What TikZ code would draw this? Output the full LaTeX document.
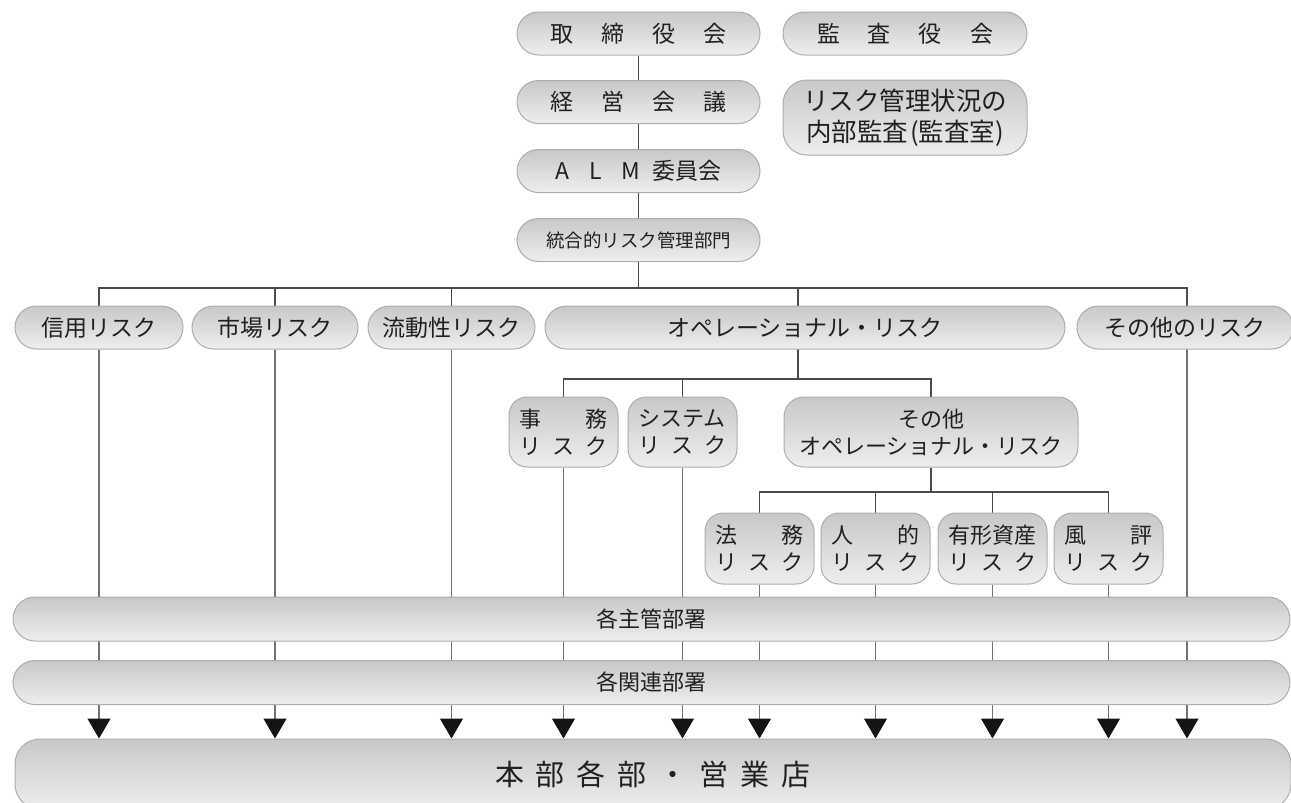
\documentclass[tikz,border=0pt]{standalone}
\usepackage{fontspec}
\setmainfont{Noto Sans CJK JP}
\usetikzlibrary{arrows.meta,calc}
\definecolor{boxtop}{RGB}{199,200,202}
\definecolor{boxbot}{RGB}{238,238,240}
\definecolor{boxline}{RGB}{172,173,175}
\definecolor{txt}{RGB}{35,31,32}
\definecolor{vline}{RGB}{115,115,115}
\definecolor{hline}{RGB}{75,75,75}
\newcommand\gp[1]{\hspace{#1pt}}
\newcommand\jl[1]{\makebox[88pt][s]{#1}}
\pgfdeclarelayer{bg}
\pgfsetlayers{bg,main}
\begin{document}
\begin{tikzpicture}[x=1pt,y=-1pt,
  pill/.style={draw=boxline,line width=1pt,top color=boxtop,bottom color=boxbot,
    text=txt,inner sep=0pt,rounded corners=#1,align=center},
  pill/.default=21.5,
  conn/.style={draw=hline,line width=1.2pt},
  feed/.style={draw=vline,line width=1.2pt,-{Triangle[width=23pt,length=20pt,color=black!92]}},
  fA/.style={font=\fontsize{23}{28}\selectfont},
  fB/.style={font=\fontsize{22}{27}\selectfont},
  fC/.style={font=\fontsize{18.5}{22}\selectfont},
  fD/.style={font=\fontsize{25.5}{31}\selectfont},
  fE/.style={font=\fontsize{29}{34}\selectfont},
  top/.style={pill,minimum width=243,minimum height=43,fA},
  row/.style={pill,minimum height=43,fA},
  two/.style={pill=18,minimum width=109,minimum height=70,fB},
  bar/.style={pill=22,minimum width=1277,minimum height=44,fB}
]
\useasboundingbox (0,0) rectangle (1291,803);
\clip (0,0) rectangle (1291,803);

% top column
\node[top] (tori) at (638.5,33.5) {取\gp{28}締\gp{28}役\gp{28}会};
\node[top,minimum width=244] (kansa) at (905,33.5) {監\gp{28}査\gp{28}役\gp{28}会};
\node[top] (keiei) at (638.5,102) {経\gp{28}営\gp{28}会\gp{28}議};
\node[pill=24,minimum width=244,minimum height=75,fD] (naibu) at (905,117.5) {リスク管理状況の\\内部監査\gp{2}(監査室)};
\node[top] (alm) at (638.5,171) {A\gp{20}L\gp{20}M\gp{12}委員会};
\node[top,fC] (togo) at (638.5,240) {統合的リスク管理部門};

% risk row
\node[row,minimum width=168] (shinyo) at (99,327.5) {信用リスク};
\node[row,minimum width=166] (shijo) at (275,327.5) {市場リスク};
\node[row,minimum width=167] (ryudo) at (451.5,327.5) {流動性リスク};
\node[row,minimum width=520] (ope) at (805,327.5) {オペレーショナル・リスク};
\node[row,minimum width=216] (sonota) at (1185,327.5) {その他のリスク};

% operational sub row
\node[two] (jimu) at (563.5,432) {\jl{事\hfill 務}\\\jl{リ\hfill ス\hfill ク}};
\node[two] (system) at (682.5,432) {\jl{システム}\\\jl{リ\hfill ス\hfill ク}};
\node[two,minimum width=294,pill=20] (sonotaope) at (931,432) {その他\\オペレーショナル・リスク};

% other operational sub row
\node[two,minimum height=71] (homu) at (759.5,548.5) {\jl{法\hfill 務}\\\jl{リ\hfill ス\hfill ク}};
\node[two,minimum height=71] (jinteki) at (875.5,548.5) {\jl{人\hfill 的}\\\jl{リ\hfill ス\hfill ク}};
\node[two,minimum height=71] (yukei) at (992.5,548.5) {\jl{有形資産}\\\jl{リ\hfill ス\hfill ク}};
\node[two,minimum height=71] (fuhyo) at (1108.5,548.5) {\jl{風\hfill 評}\\\jl{リ\hfill ス\hfill ク}};

% bars
\node[bar] (shukan) at (651.5,619) {各主管部署};
\node[bar] (kanren) at (651.5,682.5) {各関連部署};
\node[pill=25,minimum width=1276,minimum height=70,fE] (honbu) at (653,774)
  {本\gp{12}部\gp{12}各\gp{12}部\gp{12}・\gp{12}営\gp{12}業\gp{12}店};

\coordinate (j1) at (638.5,288);
\coordinate (opeN) at (798,306);
\coordinate (opeS) at (798,349);
\coordinate (sonN) at (1187,306);
\coordinate (sonS) at (1187,349);
\coordinate (j2) at (798,379);
\coordinate (j3) at (931,492);

\begin{pgfonlayer}{bg}
\draw[conn] (tori) -- (keiei);
\draw[conn] (keiei) -- (alm);
\draw[conn] (alm) -- (togo);
\draw[conn] (togo.south) -- (j1);
\draw[conn] (shinyo.north) |- (j1);
\draw[conn] (shijo.north) |- (j1);
\draw[conn] (ryudo.north) |- (j1);
\draw[conn] (opeN) |- (j1);
\draw[conn] (sonN) |- (j1);
\draw[conn] (opeS) -- (j2);
\draw[conn] (jimu.north) |- (j2);
\draw[conn] (system.north) |- (j2);
\draw[conn] (sonotaope.north) |- (j2);
\draw[conn] (sonotaope.south) -- (j3);
\draw[conn] (homu.north) |- (j3);
\draw[conn] (jinteki.north) |- (j3);
\draw[conn] (yukei.north) |- (j3);
\draw[conn] (fuhyo.north) |- (j3);

\foreach \n in {shinyo,shijo,ryudo,jimu,system,homu,jinteki,yukei,fuhyo}
  \draw[feed] (\n.south) -- (\n.south |- honbu.north);
\draw[feed] (sonS) -- (sonS |- honbu.north);
\end{pgfonlayer}
\end{tikzpicture}
\end{document}
